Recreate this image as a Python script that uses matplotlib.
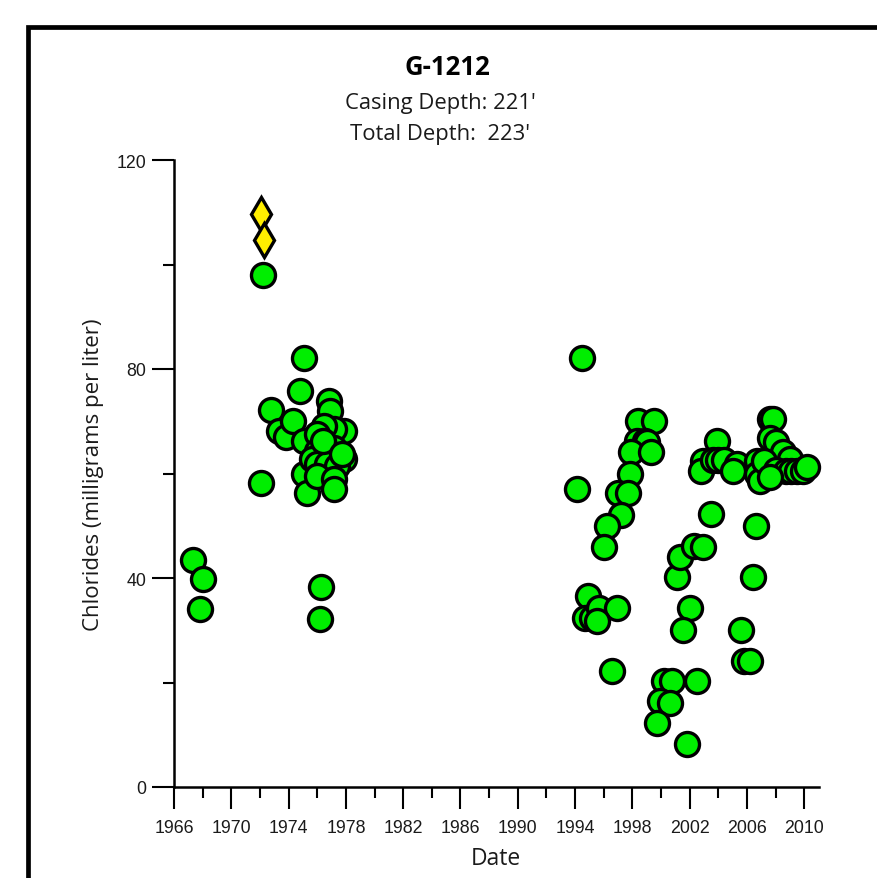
import matplotlib
matplotlib.use("Agg")
import matplotlib.pyplot as plt
from matplotlib.patches import Rectangle
from matplotlib.ticker import MultipleLocator

# ---------------- data ----------------
circle_years = [
    1967.3, 1968.0, 1967.8,
    1972.1, 1972.2, 1972.8, 1973.3, 1973.8, 1974.3, 1974.8, 1975.1, 1975.1, 1975.1, 1975.3,
    1976.8, 1976.9, 1977.9, 1977.2, 1976.5, 1976.0, 1977.9, 1977.2, 1976.5, 1976.0,
    1975.6, 1976.0, 1976.7, 1977.4, 1976.0, 1977.2, 1977.2, 1976.4, 1977.7,
    1976.25, 1976.2,
    1994.5, 1994.1, 1998.4, 1999.5, 1998.3, 1998.85, 1999.05, 1997.9, 1999.3, 1997.8,
    1997.0, 1997.7, 1997.2, 1996.2, 1996.05,
    1994.9, 1994.7, 1995.2, 1995.7, 1996.9, 1995.5, 1996.6,
    2001.1, 2001.3, 2002.3, 2002.9, 2002.05, 2001.5, 2000.2, 2000.8, 2002.5,
    1999.9, 2000.6, 1999.75, 2001.8,
    2003.9, 2002.9, 2002.8, 2003.6, 2004.0, 2004.4, 2005.3, 2005.0, 2003.5,
    2006.7, 2006.7, 2006.9, 2007.6, 2007.8, 2007.6, 2008.05, 2008.5, 2009.0,
    2007.2, 2008.05, 2008.7, 2009.1, 2009.5, 2009.9, 2010.2, 2007.6,
    2006.6, 2006.4, 2005.6, 2005.8, 2006.2,
]
circle_values = [
    43.4, 39.9, 34.0,
    58.1, 98.0, 72.2, 68.2, 67.0, 70.0, 75.8, 82.1, 66.3, 60.0, 56.2,
    73.9, 72.0, 68.2, 68.6, 69.0, 67.6, 62.8, 64.8, 65.3, 64.4,
    62.8, 61.9, 61.9, 61.5, 59.6, 59.0, 57.1, 66.3, 63.8,
    38.2, 32.1,
    82.1, 57.1, 70.1, 70.1, 66.3, 66.3, 66.1, 64.2, 64.2, 60.0,
    56.2, 56.2, 52.0, 50.0, 46.0,
    36.5, 32.3, 32.3, 34.2, 34.2, 31.7, 22.2,
    40.1, 44.1, 46.2, 46.0, 34.2, 30.0, 20.2, 20.2, 20.2,
    16.4, 16.0, 12.2, 8.2,
    66.3, 62.3, 60.4, 62.5, 62.5, 62.5, 61.9, 60.4, 52.3,
    62.3, 60.0, 58.5, 70.5, 70.5, 66.7, 66.1, 64.2, 62.8,
    62.3, 60.6, 60.4, 60.4, 60.4, 60.4, 61.3, 59.4,
    50.0, 40.1, 30.0, 24.1, 24.1,
]
diamond_years = [1972.1, 1972.3]
diamond_values = [109.6, 104.7]

title = "G-1212"
subtitle1 = "Casing Depth: 221'"
subtitle2 = "Total Depth:  223'"
xlabel = "Date"
ylabel = "Chlorides (milligrams per liter)"
x_major_ticks = list(range(1966, 2011, 4))
y_major_ticks = [0, 40, 80, 120]

# ---------------- figure ----------------
W, H = 877, 879
fig = plt.figure(figsize=(W / 100, H / 100), dpi=100)
fig.patch.set_facecolor("white")

# outer frame (partly cut off at right/bottom)
fig.add_artist(Rectangle((27.5 / W, -0.2), 1.2, 1 - 27.5 / H + 0.2,
                         transform=fig.transFigure, fill=False,
                         edgecolor="black", linewidth=3.4))

ax = fig.add_axes([174 / W, 1 - 788 / H, (818.6 - 174) / W, (788 - 161) / H])

ax.plot(circle_years, circle_values, linestyle="none", marker="o",
        markersize=17.3, markerfacecolor="#00ee00", markeredgecolor="black",
        markeredgewidth=2.4, clip_on=False, zorder=3)
ax.plot(diamond_years, diamond_values, linestyle="none", marker="d",
        markersize=17.5, markerfacecolor="#ffee00", markeredgecolor="black",
        markeredgewidth=2.4, clip_on=False, zorder=4)

ax.set_xlim(1966, 2011)
ax.set_ylim(0, 120)

for s in ["top", "right"]:
    ax.spines[s].set_visible(False)
for s in ["left", "bottom"]:
    ax.spines[s].set_linewidth(1.8)
    ax.spines[s].set_color("black")

ax.set_xticks(x_major_ticks)
ax.xaxis.set_minor_locator(MultipleLocator(2))
ax.set_yticks(y_major_ticks)
ax.yaxis.set_minor_locator(MultipleLocator(20))

ax.tick_params(axis="both", which="major", direction="out", length=16,
               width=1.5, color="black", labelsize=12.8, labelcolor="#1a1a1a")
ax.tick_params(axis="both", which="minor", direction="out", length=8,
               width=1.5, color="black")
ax.tick_params(axis="x", which="major", pad=7)
ax.tick_params(axis="y", which="major", pad=4)
for lab in ax.get_xticklabels() + ax.get_yticklabels():
    lab.set_fontfamily("Liberation Sans")

ax.set_xlabel(xlabel, fontsize=16.5, family="Open Sans", color="#1a1a1a", labelpad=7)
ax.set_ylabel(ylabel, fontsize=16, family="Open Sans", color="#1a1a1a", labelpad=9)

fig.text(447 / W, 1 - 75 / H, title, ha="center", va="baseline",
         fontsize=18.5, fontweight="bold", family="Open Sans", color="black")
fig.text(440 / W, 1 - 109 / H, subtitle1, ha="center", va="baseline",
         fontsize=15.8, family="Open Sans", color="#1a1a1a")
fig.text(440 / W, 1 - 140 / H, subtitle2, ha="center", va="baseline",
         fontsize=15.8, family="Open Sans", color="#1a1a1a")

fig.savefig("out.png", dpi=100, facecolor="white")
